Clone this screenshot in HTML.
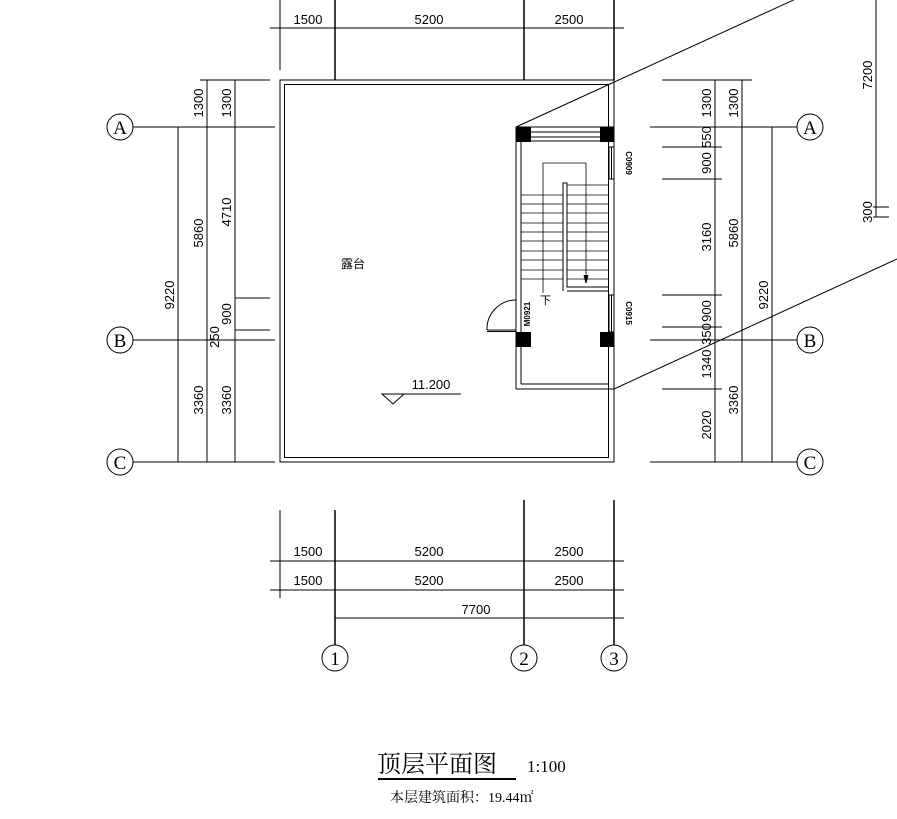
<!DOCTYPE html>
<html><head><meta charset="utf-8"><style>
html,body{margin:0;padding:0;background:#fff;}
svg{display:block;}
text{font-family:"Liberation Sans","Noto Sans CJK SC",sans-serif;fill:#000;}
.d{font-size:13px;}
text.ser{font-family:"Liberation Serif",serif;font-size:19px;}
text.win{font-size:8px;font-weight:bold;}
text.tt{font-family:"Noto Serif CJK SC",serif;font-size:24px;}
text.sc{font-family:"Liberation Serif",serif;font-size:17px;}
text.sub{font-family:"Liberation Serif","Noto Serif CJK SC",serif;font-size:14px;}
</style></head><body>
<svg width="897" height="819" viewBox="0 0 897 819" xmlns="http://www.w3.org/2000/svg">
<g stroke="#000" stroke-width="1" fill="none">
<line x1="270" y1="28" x2="624" y2="28"/>
<line x1="280" y1="0" x2="280" y2="70"/>
<line x1="335" y1="0" x2="335" y2="80" stroke-width="1.5"/>
<line x1="524" y1="0" x2="524" y2="80" stroke-width="1.5"/>
<line x1="614" y1="0" x2="614" y2="80" stroke-width="1.5"/>
<rect x="280" y="80" width="334" height="382"/>
<rect x="284.5" y="84.5" width="324" height="373"/>
<line x1="516" y1="127" x2="516" y2="389"/>
<line x1="521" y1="141" x2="521" y2="384"/>
<line x1="516" y1="389" x2="614" y2="389"/>
<line x1="521" y1="384" x2="609" y2="384"/>
<line x1="516" y1="127" x2="614" y2="127"/>
<line x1="531" y1="132" x2="600" y2="132"/>
<line x1="531" y1="137" x2="600" y2="137"/>
<line x1="531" y1="141" x2="600" y2="141"/>
<rect x="609" y="147" width="5" height="32"/>
<line x1="611.5" y1="147" x2="611.5" y2="179"/>
<rect x="609" y="295" width="5" height="37"/>
<line x1="611.5" y1="295" x2="611.5" y2="332"/>
<g stroke-width="0.8">
<line x1="521" y1="195" x2="563" y2="195"/><line x1="521" y1="204" x2="563" y2="204"/>
<line x1="521" y1="213" x2="563" y2="213"/><line x1="521" y1="223" x2="563" y2="223"/>
<line x1="521" y1="232" x2="563" y2="232"/><line x1="521" y1="241" x2="563" y2="241"/>
<line x1="521" y1="251" x2="563" y2="251"/><line x1="521" y1="260" x2="563" y2="260"/>
<line x1="521" y1="270" x2="563" y2="270"/><line x1="521" y1="279" x2="563" y2="279"/>
<line x1="567" y1="185" x2="608" y2="185"/><line x1="567" y1="195" x2="608" y2="195"/>
<line x1="567" y1="204" x2="608" y2="204"/><line x1="567" y1="213" x2="608" y2="213"/>
<line x1="567" y1="223" x2="608" y2="223"/><line x1="567" y1="232" x2="608" y2="232"/>
<line x1="567" y1="241" x2="608" y2="241"/><line x1="567" y1="251" x2="608" y2="251"/>
<line x1="567" y1="260" x2="608" y2="260"/><line x1="567" y1="270" x2="608" y2="270"/>
<line x1="567" y1="279" x2="608" y2="279"/>
</g>
<path d="M563 291 V183 H567 V287 H608"/>
<path d="M567 291 H608"/>
<path d="M543 293 V163 H586 V282" stroke-width="0.8"/>
<path d="M584 275 L586 283 L588 275" fill="#000"/>
<line x1="487" y1="330" x2="516" y2="330"/>
<line x1="487" y1="331.5" x2="516" y2="331.5"/>
<path d="M487 330 A29 29 0 0 1 516 300"/>
<line x1="516" y1="127" x2="800" y2="-3"/>
<line x1="614" y1="389" x2="897" y2="259"/>
<path d="M382 394 L404 394 L393 404 Z"/>
<line x1="404" y1="394" x2="461" y2="394"/>
<line x1="133" y1="127" x2="275" y2="127"/>
<line x1="133" y1="340" x2="275" y2="340"/>
<line x1="133" y1="462" x2="275" y2="462"/>
<line x1="200" y1="80" x2="270" y2="80"/>
<line x1="235" y1="298" x2="270" y2="298"/>
<line x1="235" y1="330" x2="270" y2="330"/>
<line x1="178" y1="127" x2="178" y2="462"/>
<line x1="207" y1="80" x2="207" y2="462"/>
<line x1="235" y1="80" x2="235" y2="462"/>
<line x1="650" y1="127" x2="797" y2="127"/>
<line x1="650" y1="340" x2="797" y2="340"/>
<line x1="650" y1="462" x2="797" y2="462"/>
<line x1="662" y1="80" x2="752" y2="80"/>
<line x1="662" y1="147" x2="722" y2="147"/>
<line x1="662" y1="179" x2="722" y2="179"/>
<line x1="662" y1="295" x2="722" y2="295"/>
<line x1="662" y1="327" x2="722" y2="327"/>
<line x1="662" y1="389" x2="722" y2="389"/>
<line x1="715" y1="80" x2="715" y2="462"/>
<line x1="742" y1="80" x2="742" y2="462"/>
<line x1="772" y1="127" x2="772" y2="462"/>
<line x1="876" y1="0" x2="876" y2="217"/>
<line x1="873" y1="207" x2="889" y2="207"/>
<line x1="873" y1="217" x2="889" y2="217"/>
<line x1="270" y1="561" x2="624" y2="561"/>
<line x1="270" y1="590" x2="624" y2="590"/>
<line x1="335" y1="618" x2="624" y2="618"/>
<line x1="280" y1="510" x2="280" y2="598"/>
<line x1="335" y1="510" x2="335" y2="645" stroke-width="1.5"/>
<line x1="524" y1="500" x2="524" y2="645" stroke-width="1.5"/>
<line x1="614" y1="500" x2="614" y2="645" stroke-width="1.5"/>
<circle cx="120" cy="127" r="13"/><circle cx="120" cy="340" r="13"/><circle cx="120" cy="462" r="13"/>
<circle cx="810" cy="127" r="13"/><circle cx="810" cy="340" r="13"/><circle cx="810" cy="462" r="13"/>
<circle cx="335" cy="658" r="13"/><circle cx="524" cy="658" r="13"/><circle cx="614" cy="658" r="13"/>
<line x1="378" y1="779" x2="516" y2="779" stroke-width="2"/>
</g>
<g fill="#000">
<rect x="516" y="127" width="15" height="15"/><rect x="600" y="127" width="14" height="15"/>
<rect x="516" y="332" width="15" height="15"/><rect x="600" y="332" width="14" height="15"/>
</g>
<g class="d" text-anchor="middle">
<text class="d" x="308" y="24">1500</text><text class="d" x="429" y="24">5200</text><text class="d" x="569" y="24">2500</text>
<text class="d" x="308" y="556">1500</text><text class="d" x="429" y="556">5200</text><text class="d" x="569" y="556">2500</text>
<text class="d" x="308" y="585">1500</text><text class="d" x="429" y="585">5200</text><text class="d" x="569" y="585">2500</text>
<text class="d" x="476" y="614">7700</text>
<text class="d" x="431" y="389">11.200</text>
<text class="d" transform="translate(203,103) rotate(-90)">1300</text>
<text class="d" transform="translate(231,103) rotate(-90)">1300</text>
<text class="d" transform="translate(174,295) rotate(-90)">9220</text>
<text class="d" transform="translate(203,233) rotate(-90)">5860</text>
<text class="d" transform="translate(231,212) rotate(-90)">4710</text>
<text class="d" transform="translate(231,314) rotate(-90)">900</text>
<text class="d" transform="translate(219,337) rotate(-90)">250</text>
<text class="d" transform="translate(203,400) rotate(-90)">3360</text>
<text class="d" transform="translate(231,400) rotate(-90)">3360</text>
<text class="d" transform="translate(711,103) rotate(-90)">1300</text>
<text class="d" transform="translate(738,103) rotate(-90)">1300</text>
<text class="d" transform="translate(711,137) rotate(-90)">550</text>
<text class="d" transform="translate(711,163) rotate(-90)">900</text>
<text class="d" transform="translate(711,237) rotate(-90)">3160</text>
<text class="d" transform="translate(738,233) rotate(-90)">5860</text>
<text class="d" transform="translate(768,295) rotate(-90)">9220</text>
<text class="d" transform="translate(711,311) rotate(-90)">900</text>
<text class="d" transform="translate(711,334) rotate(-90)">350</text>
<text class="d" transform="translate(711,364) rotate(-90)">1340</text>
<text class="d" transform="translate(711,425) rotate(-90)">2020</text>
<text class="d" transform="translate(738,400) rotate(-90)">3360</text>
<text class="d" transform="translate(872,75) rotate(-90)">7200</text>
<text class="d" transform="translate(872,212) rotate(-90)">300</text>
<text class="win" transform="translate(626,163) rotate(90)">C0909</text>
<text class="win" transform="translate(626,313) rotate(90)">C0915</text>
<text class="win" transform="translate(530,314) rotate(-90)">M0921</text>
<text class="ser" x="120" y="134">A</text><text class="ser" x="120" y="347">B</text><text class="ser" x="120" y="469">C</text>
<text class="ser" x="810" y="134">A</text><text class="ser" x="810" y="347">B</text><text class="ser" x="810" y="469">C</text>
<text class="ser" x="335" y="665">1</text><text class="ser" x="524" y="665">2</text><text class="ser" x="614" y="665">3</text>
</g>
<text x="341" y="268" style="font-size:12px">露台</text>
<text x="540" y="304" style="font-size:11px">下</text>
<text class="tt" x="377" y="772">顶层平面图</text>
<text class="sc" x="527" y="772">1:100</text>
<text class="sub" x="390" y="802">本层建筑面积：19.44㎡</text>
</svg>
</body></html>
